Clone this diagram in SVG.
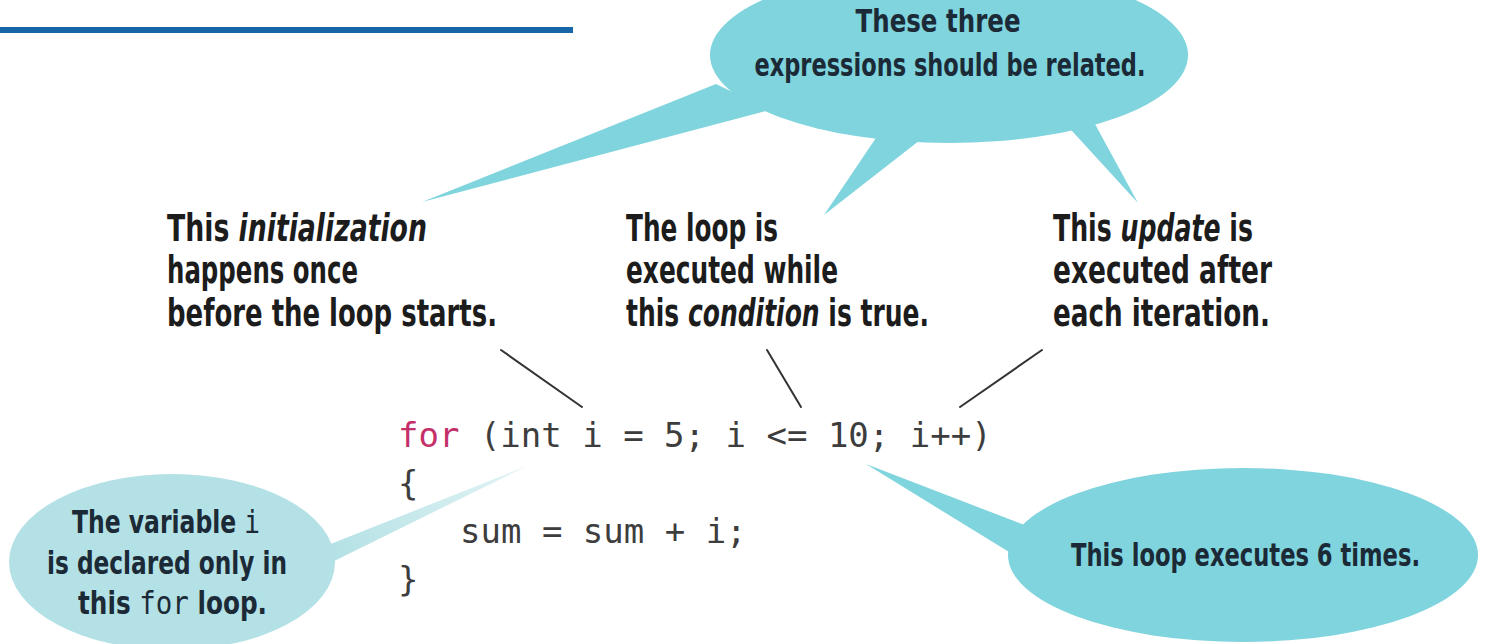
<svg xmlns="http://www.w3.org/2000/svg" width="1485" height="644" viewBox="0 0 1485 644">
  <defs>
    <style>
      .bub { fill: #7fd4de; }
      .pale { fill: #b3e1e5; }
      .hand { font-family: "Liberation Sans Narrow", "DejaVu Sans Condensed", "Liberation Sans", sans-serif; font-weight: bold; fill: #1c1c1c; font-size: 37px; }
      .btxt { font-family: "Liberation Sans Narrow", "DejaVu Sans Condensed", "Liberation Sans", sans-serif; font-weight: bold; fill: #1b2a36; font-size: 32px; }
      .it { font-style: italic; }
      .mono { font-family: "DejaVu Sans Mono", "Liberation Mono", monospace; font-weight: normal; }
      .code { font-family: "DejaVu Sans Mono", "Liberation Mono", monospace; font-size: 34px; fill: #3d3d3d; }
      .kw { fill: #c4306a; }
      .ptr { stroke: #333333; stroke-width: 2; fill: none; stroke-linecap: round; }
    </style>
    <linearGradient id="fade" gradientUnits="userSpaceOnUse" x1="330" y1="555" x2="528" y2="466">
      <stop offset="0" stop-color="#b3e1e5"/>
      <stop offset="1" stop-color="#e4f4f5"/>
    </linearGradient>
  </defs>

  <rect x="0" y="0" width="1485" height="644" fill="#ffffff"/>

  <!-- header rule -->
  <rect id="header-rule" x="0" y="27" width="573" height="6" fill="#1565a8"/>

  <g id="connectors">
    <!-- tails of the top bubble -->
    <polygon class="bub" points="422,202 716,84 770,110"/>
    <polygon class="bub" points="824,215 884,126 938,126"/>
    <polygon class="bub" points="1138,203 1062,120 1089,113"/>
    <!-- tail of lower-right bubble -->
    <polygon class="bub" points="866,464 1040,531 1030,565"/>
    <!-- tail of lower-left bubble -->
    <polygon fill="url(#fade)" points="527,466 318,549 322,567"/>
    <!-- pointer lines -->
    <line class="ptr" x1="501" y1="350" x2="582" y2="407"/>
    <line class="ptr" x1="767" y1="350" x2="801" y2="407"/>
    <line class="ptr" x1="1042" y1="350" x2="960" y2="407"/>
  </g>

  <g id="bubble-related">
    <ellipse class="bub" cx="949" cy="55" rx="239" ry="88"/>
    <text class="btxt" x="938" y="32" text-anchor="middle" textLength="165" lengthAdjust="spacingAndGlyphs">These three</text>
    <text class="btxt" x="950" y="76" text-anchor="middle" textLength="391" lengthAdjust="spacingAndGlyphs">expressions should be related.</text>
  </g>

  <g id="label-initialization">
    <text class="hand" x="167" y="241" textLength="260" lengthAdjust="spacingAndGlyphs">This <tspan class="it">initialization</tspan></text>
    <text class="hand" x="167" y="283" textLength="191" lengthAdjust="spacingAndGlyphs">happens once</text>
    <text class="hand" x="167" y="326" textLength="330" lengthAdjust="spacingAndGlyphs">before the loop starts.</text>
  </g>

  <g id="label-condition">
    <text class="hand" x="626" y="241" textLength="152" lengthAdjust="spacingAndGlyphs">The loop is</text>
    <text class="hand" x="626" y="283" textLength="212" lengthAdjust="spacingAndGlyphs">executed while</text>
    <text class="hand" x="626" y="326" textLength="303" lengthAdjust="spacingAndGlyphs">this <tspan class="it">condition</tspan> is true.</text>
  </g>

  <g id="label-update">
    <text class="hand" x="1053" y="241" textLength="200" lengthAdjust="spacingAndGlyphs">This <tspan class="it">update</tspan> is</text>
    <text class="hand" x="1053" y="283" textLength="219" lengthAdjust="spacingAndGlyphs">executed after</text>
    <text class="hand" x="1053" y="326" textLength="217" lengthAdjust="spacingAndGlyphs">each iteration.</text>
  </g>

  <g id="code">
    <text class="code" x="398" y="447"><tspan class="kw">for</tspan> (int i = 5; i &lt;= 10; i++)</text>
    <text class="code" x="398" y="495">{</text>
    <text class="code" x="460" y="543">sum = sum + i;</text>
    <text class="code" x="398" y="591">}</text>
  </g>

  <g id="bubble-scope">
    <ellipse class="pale" cx="172" cy="562" rx="163" ry="88"/>
    <text class="btxt" x="72" y="533" textLength="188" lengthAdjust="spacingAndGlyphs">The variable <tspan class="mono">i</tspan></text>
    <text class="btxt" x="47" y="574" textLength="240" lengthAdjust="spacingAndGlyphs">is declared only in</text>
    <text class="btxt" x="78" y="614" textLength="189" lengthAdjust="spacingAndGlyphs">this <tspan class="mono">for</tspan> loop.</text>
  </g>

  <g id="bubble-count">
    <ellipse class="bub" cx="1243" cy="555" rx="235" ry="87"/>
    <text class="btxt" x="1071" y="566" textLength="349" lengthAdjust="spacingAndGlyphs">This loop executes 6 times.</text>
  </g>
</svg>
